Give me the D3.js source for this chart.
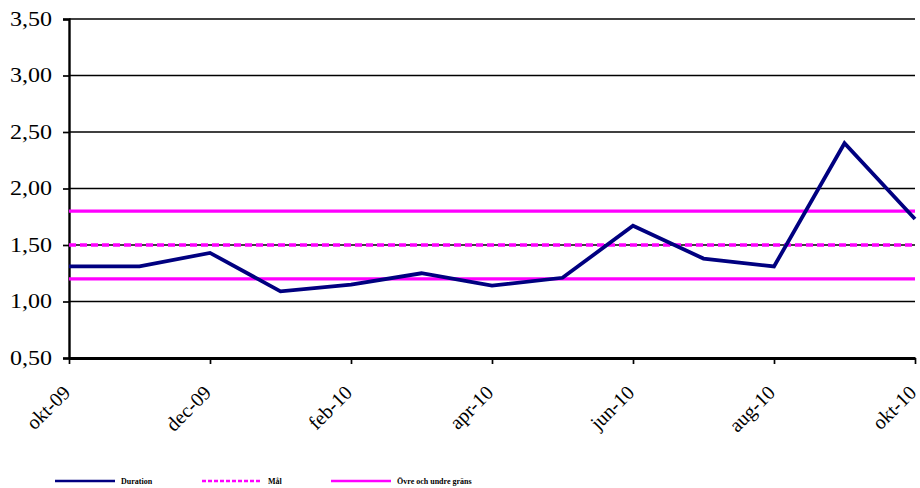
<!DOCTYPE html>
<html>
<head>
<meta charset="utf-8">
<script src="https://cdn.jsdelivr.net/npm/d3@7"></script>
<style>
  html, body { margin: 0; padding: 0; background: #fff; }
  svg { display: block; }
  text { font-family: "Liberation Serif", "Times New Roman", Times, serif; }
</style>
</head>
<body>
<svg id="chart" width="920" height="488"></svg>
<script>
// Monthly categories
const months = ["okt-09","nov-09","dec-09","jan-10","feb-10","mar-10","apr-10",
                "maj-10","jun-10","jul-10","aug-10","sep-10","okt-10"];
// Duration per month
const duration = [1.31, 1.31, 1.43, 1.09, 1.15, 1.25, 1.14, 1.21, 1.67, 1.38, 1.31, 2.40, 1.73];
// Target and control limits
const target = 1.50;
const upperLimit = 1.80;
const lowerLimit = 1.20;
// Axis ticks
const yTicks = [0.5, 1.0, 1.5, 2.0, 2.5, 3.0, 3.5];
const xTickLabels = ["okt-09","dec-09","feb-10","apr-10","jun-10","aug-10","okt-10"];
const legendLabels = ["Duration", "Mål", "Övre och undre gräns"];

const svg = d3.select("#chart");
const plotLeft = 69, plotRight = 915, plotTop = 19, plotBottom = 358;

const x = d3.scalePoint().domain(months).range([plotLeft, plotRight]);
const y = d3.scaleLinear().domain([0.5, 3.5]).range([plotBottom, plotTop]);
const fmt = v => d3.format(".2f")(v).replace(".", ",");

// Horizontal gridlines
svg.append("g").selectAll("line").data(yTicks).join("line")
  .attr("x1", plotLeft).attr("x2", plotRight)
  .attr("y1", d => y(d)).attr("y2", d => y(d))
  .attr("stroke", "#000").attr("stroke-width", 1.7);

// Y axis
const yAxis = svg.append("g").attr("transform", `translate(${plotLeft},0)`)
  .call(d3.axisLeft(y).tickValues(yTicks).tickFormat(fmt).tickSize(6));
yAxis.select(".domain").attr("stroke", "#000").attr("stroke-width", 2.4);
yAxis.selectAll(".tick line").attr("stroke", "#000").attr("stroke-width", 1.7);
yAxis.selectAll("text")
  .attr("font-size", 20).attr("fill", "#000")
  .attr("font-family", "Liberation Serif, Times New Roman, serif")
  .attr("x", 0)
  .attr("transform", "translate(-17,0) scale(1.2,1)");

// X axis
const xAxis = svg.append("g").attr("transform", `translate(0,${plotBottom})`)
  .call(d3.axisBottom(x).tickValues(xTickLabels).tickSize(6).tickSizeOuter(0));
xAxis.select(".domain").attr("stroke", "#000").attr("stroke-width", 2.8);
xAxis.selectAll(".tick line").attr("stroke", "#000").attr("stroke-width", 1.7);
xAxis.selectAll("text")
  .attr("font-size", 20).attr("fill", "#000")
  .attr("font-family", "Liberation Serif, Times New Roman, serif")
  .attr("text-anchor", "end")
  .attr("y", 0)
  .attr("dy", "0.35em")
  .attr("transform", "translate(-3,31) rotate(-45)");

// Limit lines
[upperLimit, lowerLimit].forEach(v => {
  svg.append("line")
    .attr("x1", plotLeft).attr("x2", plotRight)
    .attr("y1", y(v)).attr("y2", y(v))
    .attr("stroke", "#ff00ff").attr("stroke-width", 3.3);
});
// Target line
svg.append("line")
  .attr("x1", plotLeft).attr("x2", plotRight)
  .attr("y1", y(target)).attr("y2", y(target))
  .attr("stroke", "#ff00ff").attr("stroke-width", 3.3)
  .attr("stroke-dasharray", "7,4");

// Duration series
svg.append("path")
  .datum(duration)
  .attr("fill", "none")
  .attr("stroke", "#000080")
  .attr("stroke-width", 3.8)
  .attr("stroke-linejoin", "miter")
  .attr("d", d3.line().x((d, i) => x(months[i])).y(d => y(d)));

// Legend
const legend = [
  { label: legendLabels[0], color: "#000080", dash: null, x0: 55 },
  { label: legendLabels[1], color: "#ff00ff", dash: "4,2", x0: 202 },
  { label: legendLabels[2], color: "#ff00ff", dash: null, x0: 331 }
];
const ly = 481;
const lg = svg.append("g");
legend.forEach(l => {
  lg.append("line")
    .attr("x1", l.x0).attr("x2", l.x0 + 60)
    .attr("y1", ly).attr("y2", ly)
    .attr("stroke", l.color).attr("stroke-width", 2.5)
    .attr("stroke-dasharray", l.dash);
  lg.append("text")
    .attr("x", l.x0 + 66).attr("y", ly + 3)
    .attr("font-size", 8).attr("font-weight", "bold").attr("fill", "#000")
    .text(l.label);
});
</script>
</body>
</html>
